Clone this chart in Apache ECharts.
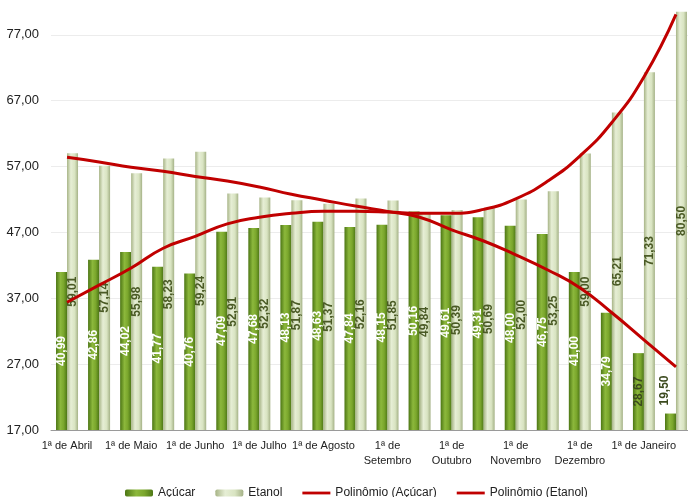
<!DOCTYPE html>
<html>
<head>
<meta charset="UTF-8">
<title>Açúcar x Etanol</title>
<script type="text/javascript" src="https://cdn.jsdelivr.net/npm/echarts@6.0.0/dist/echarts.min.js"></script>
<style>
  html, body { margin: 0; padding: 0; background: #fff; }
  #chart { width: 688px; height: 497px; }
</style>
</head>
<body>
<div id="chart"></div>

<script type="text/javascript">
// categorias (quinzenas)
var categorias = [
	"1ª de Abril", "2ª de Abril", "1ª de Maio", "2ª de Maio",
	"1ª de Junho", "2ª de Junho", "1ª de Julho", "2ª de Julho",
	"1ª de Agosto", "2ª de Agosto", "1ª de Setembro", "2ª de Setembro",
	"1ª de Outubro", "2ª de Outubro", "1ª de Novembro", "2ª de Novembro",
	"1ª de Dezembro", "2ª de Dezembro", "1ª de Janeiro", "2ª de Janeiro"
];

// rotulos do eixo x (um a cada duas quinzenas, como no original)
var rotulosX = [
	"1ª de Abril", "1ª de Maio", "1ª de Junho", "1ª de Julho", "1ª de Agosto",
	"1ª de\nSetembro", "1ª de\nOutubro", "1ª de\nNovembro", "1ª de\nDezembro", "1ª de Janeiro"
];

// valores das barras
var acucar = [40.99, 42.86, 44.02, 41.77, 40.76, 47.09, 47.68, 48.13, 48.63, 47.84,
	48.15, 50.16, 49.61, 49.31, 48.00, 46.75, 41.00, 34.79, 28.67, 19.50];
var etanol = [59.01, 57.14, 55.98, 58.23, 59.24, 52.91, 52.32, 51.87, 51.37, 52.16,
	51.85, 49.84, 50.39, 50.69, 52.00, 53.25, 59.00, 65.21, 71.33, 80.50];

// linhas de tendencia
var polAcucar = [58.4, 57.7, 56.9, 56.3, 55.5, 54.8, 53.9, 52.8, 51.9, 51.0,
	50.2, 49.3, 47.4, 45.7, 43.6, 41.3, 38.6, 34.8, 30.7, 26.6];
var polEtanol = [36.4, 39.0, 41.6, 44.6, 46.4, 48.3, 49.3, 49.9, 50.2, 50.2,
	50.1, 49.9, 49.9, 50.5, 52.1, 54.8, 58.6, 63.7, 70.6, 80.1];

// eixo y
var yMin = 17, yMax = 87, yStep = 10;

function fmt(v) {
	return v.toFixed(2).replace(".", ",");
}

var chart = echarts.init(document.getElementById("chart"));

var corAcucar = new echarts.graphic.LinearGradient(0, 0, 1, 0, [
	{ offset: 0, color: "#4c7614" },
	{ offset: 0.4, color: "#8cb83c" },
	{ offset: 0.7, color: "#7aa62c" },
	{ offset: 1, color: "#4d7716" }
]);
var corEtanol = new echarts.graphic.LinearGradient(0, 0, 1, 0, [
	{ offset: 0, color: "#a7b486" },
	{ offset: 0.35, color: "#e6eed5" },
	{ offset: 0.7, color: "#d9e4c2" },
	{ offset: 1, color: "#a5b287" }
]);

// rotulos das barras de acucar (as menores ficam escuras / fora da barra)
var dadosAcucar = acucar.map(function (v) {
	var item = { value: v };
	if (v < 25) {
		item.label = { position: "top", align: "left", distance: 8, color: "#3b4a1e" };
	} else if (v < 30) {
		item.label = { color: "#3b4a1e" };
	}
	return item;
});

var iconeLinha = "path://M0,0H30V3H0Z";

var option = {
	animation: false,
	textStyle: { fontFamily: "Liberation Sans" },
	grid: { left: 51, right: -4, top: -31, bottom: 67, outerBoundsMode: "none" },
	legend: {
		left: 120,
		top: 482,
		itemWidth: 28,
		itemHeight: 7,
		itemGap: 20,
		textStyle: { fontSize: 12, color: "#222" },
		data: [
			{ name: "Açúcar" },
			{ name: "Etanol" },
			{ name: "Polinômio (Açúcar)", icon: iconeLinha },
			{ name: "Polinômio (Etanol)", icon: iconeLinha }
		]
	},
	xAxis: {
		type: "category",
		data: categorias,
		axisLine: { lineStyle: { color: "#9a9a9a" } },
		axisTick: { show: false },
		axisLabel: {
			interval: 1,
			margin: 8,
			fontSize: 11,
			color: "#222",
			lineHeight: 15,
			hideOverlap: false,
			showMinLabel: true,
			showMaxLabel: true,
			formatter: function (v, i) { return rotulosX[i / 2] || ""; }
		}
	},
	yAxis: {
		type: "value",
		min: yMin,
		max: yMax,
		interval: yStep,
		axisLine: { show: false },
		axisTick: { show: false },
		splitLine: { lineStyle: { color: "#ececec" } },
		axisLabel: {
			fontSize: 13,
			color: "#222",
			margin: 12,
			formatter: fmt
		}
	},
	series: [
		{
			name: "Açúcar",
			type: "bar",
			data: dadosAcucar,
			barWidth: 11,
			barGap: "0%",
			itemStyle: { color: corAcucar },
			label: {
				show: true,
				position: "inside",
				rotate: 90,
				fontSize: 12,
				fontWeight: "bold",
				color: "#fff",
				formatter: function (p) { return fmt(p.value); }
			}
		},
		{
			name: "Etanol",
			type: "bar",
			data: etanol,
			barWidth: 11,
			barGap: "0%",
			itemStyle: { color: corEtanol },
			label: {
				show: true,
				position: "inside",
				rotate: 90,
				fontSize: 12,
				fontWeight: "bold",
				color: "#4a5a25",
				formatter: function (p) { return fmt(p.value); }
			}
		},
		{
			name: "Polinômio (Açúcar)",
			type: "line",
			data: polAcucar,
			smooth: true,
			symbol: "none",
			z: 5,
			itemStyle: { color: "#c00000" },
			lineStyle: { color: "#c00000", width: 3 }
		},
		{
			name: "Polinômio (Etanol)",
			type: "line",
			data: polEtanol,
			smooth: true,
			symbol: "none",
			z: 5,
			itemStyle: { color: "#c00000" },
			lineStyle: { color: "#c00000", width: 3 }
		}
	]
};

chart.setOption(option);
</script>
</body>
</html>
